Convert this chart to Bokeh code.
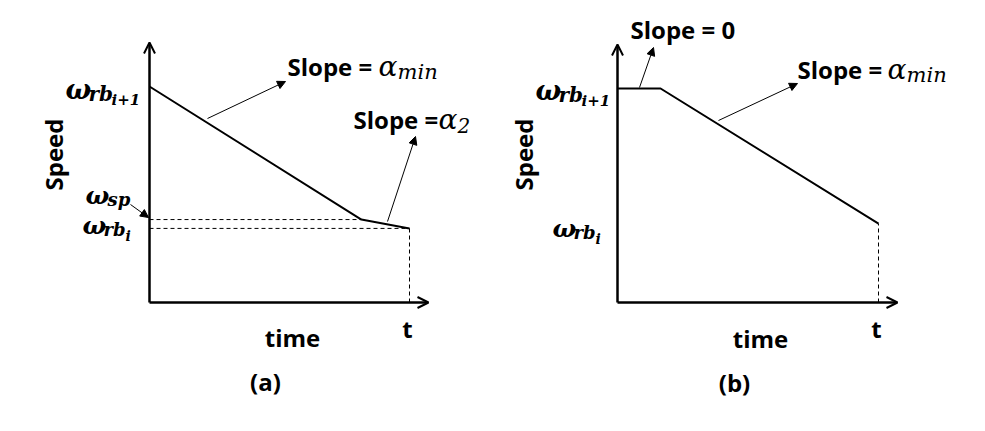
from bokeh.plotting import figure
from bokeh.models import Range1d, Arrow, OpenHead, NormalHead
from bokeh.layouts import row
from bokeh.core.properties import value
from bokeh.embed import file_html
from bokeh.resources import INLINE
import math

# ---- schematic data (normalised units: t = 10, omega_rb_{i+1} = 10) ----
T_END = 10.0
a_time = [0.0, 8.15, 10.0]        # panel (a): alpha_min segment, then alpha_2 segment
a_speed = [10.0, 3.84, 3.43]
a_omega_sp = 3.84
a_omega_rbi = 3.43
b_time = [0.0, 1.65, 10.0]        # panel (b): flat (slope 0), then alpha_min
b_speed = [10.0, 10.0, 3.69]
b_omega_rbi = 3.69

H = 423
SANS = value("Open Sans")
SERIF = value("DejaVu Serif")
FS = 24


def make_panel(left, width, ox, oy, sx, sy):
    fx0 = ox - left
    fy0 = oy
    p = figure(width=width, height=H, output_backend="svg", toolbar_location=None,
               x_range=Range1d(-fx0 / sx, (width - fx0) / sx),
               y_range=Range1d(-(H - fy0) / sy, fy0 / sy),
               min_border=0, outline_line_color=None)
    p.axis.visible = False
    p.grid.visible = False
    p.background_fill_color = "white"
    p.border_fill_color = "white"

    def to(X, Y):
        return (X - ox) / sx, (oy - Y) / sy
    return p, to


def txt(p, to, X, Y, s, size, font=SANS, style="bold", align="left", baseline="alphabetic", angle=0.0):
    x, y = to(X, Y)
    p.text(x=[x], y=[y], text=[s], text_font=font, text_font_style=style,
           text_font_size=f"{size}px", text_align=align, text_baseline=baseline,
           angle=angle, text_color="black")


def axes(p, to, xtip, ytip):
    _, y0 = to(*ytip)
    p.add_layout(Arrow(x_start=0, y_start=0, x_end=0, y_end=y0, line_width=2.5,
                       end=OpenHead(size=11, line_width=2)))
    x1, _ = to(*xtip)
    p.add_layout(Arrow(x_start=0, y_start=0, x_end=x1, y_end=0, line_width=2.5,
                       end=OpenHead(size=11, line_width=2)))


def pointer(p, to, tail, tip):
    xs, ys = to(*tail)
    xe, ye = to(*tip)
    p.add_layout(Arrow(x_start=xs, y_start=ys, x_end=xe, y_end=ye, line_width=1,
                       end=NormalHead(size=8, fill_color="black", line_color="black")))


# ---------------- panel (a) ----------------
pa, ta = make_panel(0, 485, 149, 302, 26.0, 21.6)
axes(pa, ta, (428, 302), (149, 42))
pa.line(a_time, a_speed, line_color="black", line_width=2)
pa.line([0, a_time[1]], [a_omega_sp, a_omega_sp], line_color="black", line_width=1, line_dash="4 3")
pa.line([0, T_END], [a_omega_rbi, a_omega_rbi], line_color="black", line_width=1, line_dash="4 3")
pa.line([T_END, T_END], [0, a_omega_rbi], line_color="black", line_width=1, line_dash="4 3")

# labels on the speed axis
txt(pa, ta, 65, 89, "ω", 27, SERIF, "bold italic")
txt(pa, ta, 88, 93, "rb", 20, SERIF, "bold italic")
txt(pa, ta, 111, 99, "i+1", 15, SERIF, "bold italic")
txt(pa, ta, 85, 195, "ω", 25, SERIF, "bold italic")
txt(pa, ta, 107, 199, "sp", 18, SERIF, "bold italic")
txt(pa, ta, 82, 225, "ω", 25, SERIF, "bold italic")
txt(pa, ta, 103, 229, "rb", 18, SERIF, "bold italic")
txt(pa, ta, 125, 235, "i", 14, SERIF, "bold italic")
pointer(pa, ta, (130, 204), (148, 217))

# slope annotations
txt(pa, ta, 287, 66, "Slope = ", FS)
txt(pa, ta, 378, 66, "α", 28, SERIF, "italic")
txt(pa, ta, 397, 71, "min", 21, SERIF, "italic")
pointer(pa, ta, (207, 118), (285, 81))
txt(pa, ta, 353, 119, "Slope =", FS)
txt(pa, ta, 438, 119, "α", 28, SERIF, "italic")
txt(pa, ta, 457, 125, "2", 20, SERIF, "italic")
pointer(pa, ta, (387, 221), (415, 136))

txt(pa, ta, 53, 154, "Speed", FS, align="center", baseline="middle", angle=math.pi / 2)
txt(pa, ta, 292, 337, "time", FS, align="center")
txt(pa, ta, 407, 328, "t", FS, align="center")
txt(pa, ta, 265, 381, "(a)", FS, align="center")

# ---------------- panel (b) ----------------
pb, tb = make_panel(485, 492, 617, 302, 26.1, 21.4)
axes(pb, tb, (897, 302), (617, 44))
pb.line(b_time, b_speed, line_color="black", line_width=2)
pb.line([T_END, T_END], [0, b_omega_rbi], line_color="black", line_width=1, line_dash="4 3")

txt(pb, tb, 535, 90, "ω", 27, SERIF, "bold italic")
txt(pb, tb, 558, 94, "rb", 20, SERIF, "bold italic")
txt(pb, tb, 581, 100, "i+1", 15, SERIF, "bold italic")
txt(pb, tb, 552, 228, "ω", 25, SERIF, "bold italic")
txt(pb, tb, 573, 232, "rb", 18, SERIF, "bold italic")
txt(pb, tb, 595, 238, "i", 14, SERIF, "bold italic")

txt(pb, tb, 630, 29, "Slope = 0", FS)
pointer(pb, tb, (639, 87), (653, 47))
txt(pb, tb, 797, 69, "Slope = ", FS)
txt(pb, tb, 887, 69, "α", 28, SERIF, "italic")
txt(pb, tb, 906, 74, "min", 21, SERIF, "italic")
pointer(pb, tb, (718, 120), (797, 83))

txt(pb, tb, 523, 154, "Speed", FS, align="center", baseline="middle", angle=math.pi / 2)
txt(pb, tb, 760, 338, "time", FS, align="center")
txt(pb, tb, 876, 328, "t", FS, align="center")
txt(pb, tb, 734, 382, "(b)", FS, align="center")

layout = row(pa, pb)
open("out.html", "w").write(file_html(layout, INLINE))
